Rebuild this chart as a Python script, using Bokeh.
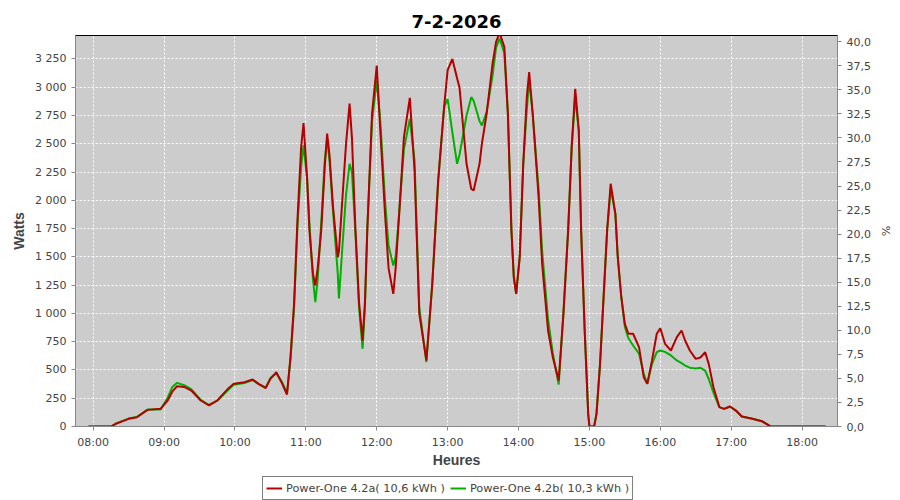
from bokeh.plotting import figure
from bokeh.layouts import column
from bokeh.models import (Range1d, LinearAxis, FixedTicker, CustomJSTickFormatter,
                          Legend, LegendItem, ColumnDataSource)
from bokeh.embed import file_html
from bokeh.resources import INLINE

# ---------------- data ----------------
title_text = "7-2-2026"
series_a_name = "Power-One 4.2a( 10,6 kWh )"
series_b_name = "Power-One 4.2b( 10,3 kWh )"

times = ["07:56", "08:15", "08:19", "08:25", "08:30", "08:37", "08:46", "08:57",
         "09:03", "09:07", "09:11", "09:17", "09:23", "09:31", "09:38", "09:45",
         "09:54", "09:59", "10:08", "10:15", "10:20", "10:26", "10:30", "10:35",
         "10:40", "10:44", "10:47", "10:50", "10:53", "10:56", "10:58", "11:01",
         "11:03", "11:06", "11:08", "11:10", "11:13", "11:16", "11:18", "11:20",
         "11:23", "11:27", "11:28", "11:31", "11:34", "11:37", "11:39", "11:42",
         "11:45", "11:48", "11:50", "11:52", "11:56", "12:00", "12:03", "12:07",
         "12:10", "12:14", "12:16", "12:19", "12:23", "12:28", "12:32", "12:36",
         "12:42", "12:47", "12:52", "12:57", "13:00", "13:04", "13:08", "13:10",
         "13:16", "13:20", "13:22", "13:27", "13:29", "13:33", "13:38", "13:41",
         "13:44", "13:48", "13:51", "13:54", "13:56", "13:58", "14:01", "14:04",
         "14:07", "14:09", "14:12", "14:17", "14:20", "14:25", "14:29", "14:34",
         "14:38", "14:42", "14:45", "14:48", "14:51", "14:53", "14:56", "14:59",
         "15:00", "15:04", "15:06", "15:09", "15:12", "15:15", "15:18", "15:22",
         "15:24", "15:27", "15:30", "15:33", "15:37", "15:42", "15:46", "15:49",
         "15:53", "15:57", "16:00", "16:04", "16:09", "16:14", "16:18", "16:21",
         "16:25", "16:30", "16:34", "16:38", "16:41", "16:45", "16:50", "16:54",
         "16:59", "17:04", "17:09", "17:18", "17:26", "17:33", "18:20"]

watts_a = [0, 0, 24, 47, 68, 82, 147, 156,
           230, 310, 356, 350, 318, 230, 186, 230,
           333, 377, 392, 415, 377, 339, 421, 480,
           377, 283, 613, 1085, 1851, 2470, 2682, 2200,
           1733, 1350, 1247, 1400, 1733, 2300, 2590, 2400,
           1939, 1497, 1550, 2027, 2500, 2855, 2550, 1733,
           1100, 760, 1100, 1733, 2765, 3192, 2617, 1880,
           1400, 1173, 1400, 1880, 2558, 2906, 2263, 998,
           584, 1262, 2175, 2823, 3150, 3250, 3080, 3000,
           2323, 2100, 2087, 2323, 2500, 2765, 3207, 3400,
           3480, 3354, 2765, 1733, 1320, 1173, 1497, 2323,
           2912, 3133, 2765, 2027, 1438, 849, 613, 407,
           996, 1733, 2470, 2986, 2617, 1733, 849, 112,
           0, 0, 112, 554, 1143, 1733, 2146, 1880,
           1497, 1143, 908, 820, 820, 701, 436, 377,
           584, 820, 869, 731, 672, 790, 849, 760,
           672, 598, 610, 657, 554, 347, 171, 156,
           177, 141, 88, 68, 47, 3, 0]

watts_b = [0, 0, 24, 50, 70, 85, 150, 150,
           255, 350, 386, 365, 330, 235, 190, 228,
           320, 370, 385, 410, 375, 345, 430, 470,
           390, 290, 600, 1050, 1800, 2300, 2485, 2200,
           1800, 1300, 1099, 1300, 1800, 2350, 2540, 2350,
           1900, 1350, 1132, 1600, 2050, 2323, 2250, 1700,
           1050, 687, 1050, 1750, 2700, 3059, 2700, 2000,
           1600, 1423, 1500, 1900, 2450, 2720, 2350, 1050,
           570, 1262, 2175, 2823, 2897, 2600, 2323, 2400,
           2750, 2912, 2880, 2700, 2661, 2780, 3100, 3350,
           3430, 3300, 2765, 1733, 1320, 1173, 1497, 2323,
           2800, 3059, 2765, 2100, 1550, 950, 650, 371,
           996, 1733, 2470, 2912, 2617, 1733, 849, 112,
           0, 0, 112, 554, 1143, 1733, 2102, 1880,
           1497, 1143, 880, 780, 716, 643, 466, 377,
           554, 657, 672, 660, 628, 584, 560, 539,
           520, 512, 519, 495, 420, 300, 171, 156,
           177, 141, 88, 68, 47, 3, 0]

hour_ticks = [8, 9, 10, 11, 12, 13, 14, 15, 16, 17, 18]
watt_ticks = [0, 250, 500, 750, 1000, 1250, 1500, 1750, 2000, 2250, 2500,
              2750, 3000, 3250]
pct_ticks = [0, 2.5, 5, 7.5, 10, 12.5, 15, 17.5, 20, 22.5, 25, 27.5, 30,
             32.5, 35, 37.5, 40]

RED = "#b40000"
GREEN = "#00b000"

# ---------------- chart ----------------
def to_hours(s):
    h, m = s.split(":")
    return int(h) + int(m) / 60.0

src = ColumnDataSource(dict(x=[to_hours(t) for t in times], a=watts_a, b=watts_b))

p = figure(width=900, height=475, output_backend="svg", toolbar_location=None,
           x_range=Range1d(7.75, 18.5), y_range=Range1d(0, 3457),
           min_border_left=75, min_border_right=63, min_border_top=35,
           min_border_bottom=49,
           background_fill_color="#cccccc", border_fill_color="white",
           outline_line_color="black", outline_line_width=1)
p.extra_y_ranges = {"pct": Range1d(0, 40.65)}

p.title.text = title_text
p.title.align = "center"
p.title.vertical_align = "top"
p.title.text_font = "DejaVu Sans"
p.title.text_font_size = "18px"
p.title.text_font_style = "bold"
p.title.text_color = "black"
p.title.standoff = 12

r_b = p.line("x", "b", source=src, line_color=GREEN, line_width=2)
r_a = p.line("x", "a", source=src, line_color=RED, line_width=2)

p.xaxis.ticker = FixedTicker(ticks=hour_ticks)
p.xaxis.formatter = CustomJSTickFormatter(
    code="var h = Math.round(tick); return (h < 10 ? '0' : '') + h + ':00';")
p.xaxis.axis_label = "Heures"

p.yaxis.ticker = FixedTicker(ticks=watt_ticks)
p.yaxis.formatter = CustomJSTickFormatter(
    code=r"return String(Math.round(tick)).replace(/\B(?=(\d{3})+(?!\d))/g, ' ');")
p.yaxis.axis_label = "Watts"

right = LinearAxis(y_range_name="pct", ticker=FixedTicker(ticks=pct_ticks),
                   formatter=CustomJSTickFormatter(
                       code="return tick.toFixed(1).replace('.', ',');"),
                   axis_label="%")
p.add_layout(right, "right")

for ax in [p.xaxis[0], p.yaxis[0], right]:
    ax.axis_line_color = "#888888"
    ax.major_tick_line_color = "#888888"
    ax.major_tick_in = 0
    ax.major_tick_out = 4
    ax.minor_tick_line_color = None
    ax.major_label_text_font = "DejaVu Sans"
    ax.major_label_text_font_size = "11px"
    ax.major_label_text_color = "#444444"
    ax.major_label_standoff = 5
    ax.axis_label_text_font = "Liberation Sans"
    ax.axis_label_text_font_style = "bold"
    ax.axis_label_text_font_size = "14px"
    ax.axis_label_text_color = "#444444"
    ax.axis_label_standoff = 5

p.xaxis[0].axis_label_standoff = 0

right.axis_label_text_font = "DejaVu Sans"
right.axis_label_text_font_style = "normal"
right.axis_label_text_font_size = "11px"

p.xgrid.grid_line_color = "white"
p.xgrid.grid_line_dash = "2 2"
p.ygrid.grid_line_color = "white"
p.ygrid.grid_line_dash = "2 2"

# ---------------- legend strip below ----------------
lg = figure(width=900, height=25, output_backend="svg", toolbar_location=None,
            x_range=Range1d(0, 1), y_range=Range1d(0, 1),
            min_border_left=0, min_border_right=0, min_border_top=0,
            min_border_bottom=0, outline_line_color=None,
            background_fill_color="white", border_fill_color="white")
lg.axis.visible = False
lg.grid.visible = False
# legend-only renderers (kept outside the visible range of this strip)
ra2 = lg.line(x=[5, 6], y=[5, 6], line_color=RED, line_width=2)
rb2 = lg.line(x=[5, 6], y=[5, 6], line_color=GREEN, line_width=2)
legend = Legend(items=[LegendItem(label=series_a_name, renderers=[ra2]),
                       LegendItem(label=series_b_name, renderers=[rb2])],
                orientation="horizontal", location=(187, 0),
                border_line_color="black", border_line_width=1,
                label_text_font="DejaVu Sans", label_text_font_size="11.3px",
                label_text_color="#444444", glyph_width=16, glyph_height=16,
                label_height=16, label_standoff=4, spacing=5, padding=3,
                margin=0, background_fill_color="white")
lg.add_layout(legend)

layout = column(p, lg, spacing=0)
open("out.html", "w").write(file_html(layout, INLINE))
